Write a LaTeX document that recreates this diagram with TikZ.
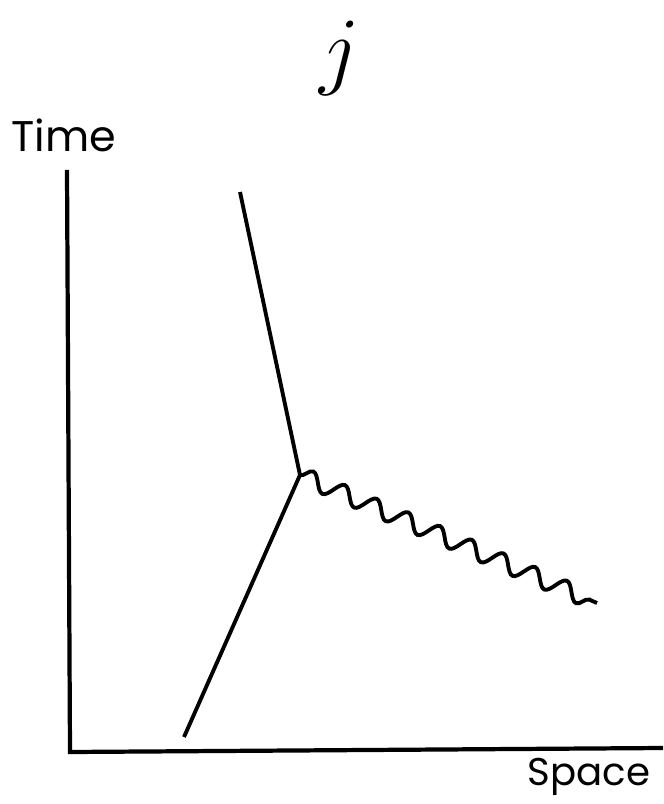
\documentclass[tikz,border=0pt]{standalone}
\usepackage{fontspec}
\setmainfont{Poppins}
\usetikzlibrary{decorations.pathmorphing}
\begin{document}
\begin{tikzpicture}[x=0.01cm,y=-0.01cm,
  axis/.style={line width=1.2pt},
  fermion/.style={line width=1.1pt},
  photon/.style={line width=1.1pt,decorate,decoration={snake,segment length=0.345cm,amplitude=0.085cm,post length=0.08cm}},
  lbl/.style={inner sep=0pt}]
\useasboundingbox (0,0) rectangle (663,804);
\coordinate (top) at (67,170);
\coordinate (origin) at (70,752);
\coordinate (right) at (663,748);
\draw[axis] (top) -- (origin) -- (right);
\node[lbl,anchor=base,font=\fontsize{12.2}{14}\selectfont] (time) at (64,152) {Time};
\node[lbl,anchor=base,font=\fontsize{11}{13}\selectfont] (space) at (589,785) {Space};
\node[inner sep=0pt] (title) at (340,58) {\fontsize{23}{23}\selectfont$j$};
\coordinate (v) at (300,475);
\coordinate (a) at (240,192);
\coordinate (b) at (184,737);
\coordinate (c) at (597,603);
\draw[fermion] (a) -- (v) -- (b);
\draw[photon] (v) -- (c);
\end{tikzpicture}
\end{document}
